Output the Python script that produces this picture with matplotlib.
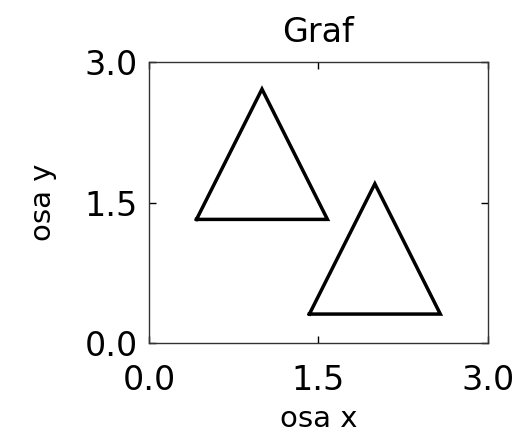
import numpy as np
import matplotlib
matplotlib.use("Agg")
import matplotlib.pyplot as plt

# triangle vertices (closed)
tri1_x = [0.42, 1.0, 1.58, 0.42]
tri1_y = [1.32, 2.71, 1.32, 1.32]
tri2_x = [1.42, 2.0, 2.58, 1.42]
tri2_y = [0.31, 1.70, 0.31, 0.31]

ticks = [0.0, 1.5, 3.0]
tick_labels = ['0.0', '1.5', '3.0']

fig = plt.figure(figsize=(5.25, 4.36), dpi=100)
ax = fig.add_axes([0.284, 0.213, 0.645, 0.645])

ax.plot(tri1_x, tri1_y, color='black', lw=2.5, solid_joinstyle='miter')
ax.plot(tri2_x, tri2_y, color='black', lw=2.5, solid_joinstyle='miter')

ax.set_xlim(0, 3)
ax.set_ylim(0, 3)
ax.set_xticks(ticks)
ax.set_yticks(ticks)
ax.set_xticklabels(tick_labels)
ax.set_yticklabels(tick_labels)
ax.tick_params(direction='in', length=5, width=1, top=True, right=True,
               labelsize=24)
ax.tick_params(axis='x', pad=15)
ax.tick_params(axis='y', pad=8)
for s in ax.spines.values():
    s.set_linewidth(1.0)
    s.set_color('#333333')

ax.set_title('Graf', fontsize=24, pad=14)
ax.set_xlabel('osa x', fontsize=21, labelpad=6)
ax.set_ylabel('osa y', fontsize=21, labelpad=20)

fig.savefig('out.png', dpi=100)
